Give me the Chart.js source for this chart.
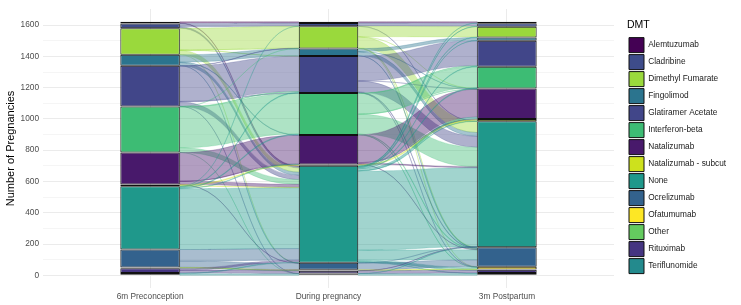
<!DOCTYPE html>
<html>
<head>
<meta charset="utf-8">
<script src="https://cdn.jsdelivr.net/npm/chart.js@4"></script>
<style>
  html, body { margin: 0; padding: 0; background: #fff; }
  #wrap { width: 741px; height: 305px; }
</style>
</head>
<body>
<div id="wrap"><canvas id="chart" width="741" height="305"></canvas></div>
<script>
// DMT categories, top-to-bottom order of the strata (same as legend)
const dmts = ['Alemtuzumab', 'Cladribine', 'Dimethyl Fumarate', 'Fingolimod', 'Glatiramer Acetate',
  'Interferon-beta', 'Natalizumab', 'Natalizumab - subcut', 'None', 'Ocrelizumab',
  'Ofatumumab', 'Other', 'Rituximab', 'Teriflunomide'];
const dmtColors = ['#440154', '#3e4c8a', '#9ad93c', '#2b748e', '#414689',
  '#3dbc74', '#48196b', '#cde11d', '#1f988b', '#33628d',
  '#fde725', '#64cb5f', '#453581', '#238a8d'];

const stages = ['6m Preconception', 'During pregnancy', '3m Postpartum'];

// pregnancies per DMT at each time point
const preconception = [12, 30, 170, 70, 260, 295, 205, 10, 405, 115, 2, 3, 30, 15];
const pregnancy = [8, 22, 142, 47, 237, 268, 190, 8, 620, 45, 2, 3, 18, 12];
const postpartum = [10, 22, 70, 20, 167, 138, 195, 15, 805, 125, 17, 3, 20, 15];

// transitions [from, to, n] (indices into dmts)
const flowsPreToPreg = [
  [0, 0, 8], [0, 8, 4],
  [1, 1, 21], [1, 8, 9],
  [2, 2, 139], [2, 3, 1], [2, 4, 2], [2, 8, 27], [2, 9, 1],
  [3, 3, 46], [3, 6, 3], [3, 8, 20], [3, 9, 1],
  [4, 2, 2], [4, 4, 226], [4, 5, 3], [4, 8, 28], [4, 13, 1],
  [5, 2, 1], [5, 4, 4], [5, 5, 259], [5, 8, 30], [5, 13, 1],
  [6, 6, 183], [6, 7, 1], [6, 8, 19], [6, 9, 2],
  [7, 7, 7], [7, 8, 3],
  [8, 1, 1], [8, 4, 5], [8, 5, 6], [8, 6, 4], [8, 8, 389],
  [9, 8, 74], [9, 9, 40], [9, 12, 1],
  [10, 10, 2],
  [11, 11, 3],
  [12, 8, 12], [12, 9, 1], [12, 12, 17],
  [13, 8, 5], [13, 13, 10]
];
const flowsPregToPost = [
  [0, 0, 8],
  [1, 1, 20], [1, 8, 2],
  [2, 2, 66], [2, 6, 1], [2, 8, 70], [2, 9, 4], [2, 10, 1],
  [3, 3, 19], [3, 6, 2], [3, 8, 24], [3, 9, 2],
  [4, 4, 160], [4, 6, 1], [4, 8, 70], [4, 9, 4], [4, 10, 2],
  [5, 4, 3], [5, 5, 132], [5, 6, 1], [5, 8, 125], [5, 9, 5], [5, 10, 2],
  [6, 6, 178], [6, 7, 4], [6, 8, 6], [6, 9, 2],
  [7, 7, 8],
  [8, 0, 2], [8, 1, 2], [8, 2, 4], [8, 3, 1], [8, 4, 4], [8, 5, 6], [8, 6, 12], [8, 7, 3],
  [8, 8, 505], [8, 9, 64], [8, 10, 10], [8, 12, 3], [8, 13, 4],
  [9, 8, 1], [9, 9, 44],
  [10, 10, 2],
  [11, 11, 3],
  [12, 8, 1], [12, 12, 17],
  [13, 8, 1], [13, 13, 11]
];

const yTicks = [0, 100, 200, 300, 400, 500, 600, 700, 800, 900, 1000, 1100, 1200, 1300, 1400, 1500, 1600];

const FONT = "'Liberation Sans', Arial, sans-serif";
const LEGEND_W = 127;
const LEGEND_SHIFT = 13;

const hexToRgba = (hex, a) => {
  const n = parseInt(hex.slice(1), 16);
  return `rgba(${(n >> 16) & 255}, ${(n >> 8) & 255}, ${n & 255}, ${a})`;
};

// top value of each stratum in a column (strata stacked top-to-bottom in dmts order)
const stratumTops = (counts) => {
  const total = counts.reduce((a, b) => a + b, 0);
  const tops = [];
  let acc = total;
  counts.forEach(c => { tops.push(acc); acc -= c; });
  return tops;
};

const drawFlowSet = (chart, flows, fromCol, toCol, fromCounts, toCounts) => {
  const { ctx, scales: { y } } = chart;
  const meta = chart.getDatasetMeta(0);
  const a = meta.data[fromCol];
  const b = meta.data[toCol];
  const x0 = a.x + a.width / 2;
  const x1 = b.x - b.width / 2;
  const xm = (x0 + x1) / 2;

  // offsets inside source strata (outgoing sorted by target) and target strata (incoming sorted by source)
  const srcOff = stratumTops(fromCounts);
  const dstOff = stratumTops(toCounts);
  const bySrc = [...flows].sort((p, q) => p[0] - q[0] || p[1] - q[1]);
  const pos = new Map();
  bySrc.forEach(f => {
    const t = srcOff[f[0]];
    srcOff[f[0]] -= f[2];
    pos.set(f, { s0: t, s1: t - f[2] });
  });
  const byDst = [...flows].sort((p, q) => p[1] - q[1] || p[0] - q[0]);
  byDst.forEach(f => {
    const t = dstOff[f[1]];
    dstOff[f[1]] -= f[2];
    Object.assign(pos.get(f), { d0: t, d1: t - f[2] });
  });

  flows.forEach(f => {
    const p = pos.get(f);
    const ys0 = y.getPixelForValue(p.s0), ys1 = y.getPixelForValue(p.s1);
    const yd0 = y.getPixelForValue(p.d0), yd1 = y.getPixelForValue(p.d1);
    ctx.beginPath();
    ctx.moveTo(x0, ys0);
    ctx.bezierCurveTo(xm, ys0, xm, yd0, x1, yd0);
    ctx.lineTo(x1, yd1);
    ctx.bezierCurveTo(xm, yd1, xm, ys1, x0, ys1);
    ctx.closePath();
    ctx.fillStyle = hexToRgba(dmtColors[f[0]], 0.42);
    ctx.fill();
    ctx.lineWidth = 0.4;
    ctx.strokeStyle = hexToRgba(dmtColors[f[0]], 0.55);
    ctx.stroke();
  });
};

const flowPlugin = {
  id: 'flows',
  beforeDatasetsDraw(chart) {
    const { ctx, chartArea } = chart;
    ctx.save();
    ctx.beginPath();
    ctx.rect(chartArea.left, chartArea.top, chartArea.right - chartArea.left, chartArea.bottom - chartArea.top);
    ctx.clip();
    drawFlowSet(chart, flowsPreToPreg, 0, 1, preconception, pregnancy);
    drawFlowSet(chart, flowsPregToPost, 1, 2, pregnancy, postpartum);
    ctx.restore();
  }
};

// fixed legend width and a small gap between panel and legend
const legendLayout = {
  id: 'legendLayout',
  beforeLayout(chart) {
    const lg = chart.legend;
    if (lg && !lg._fixedFit) {
      const fit = lg.fit.bind(lg);
      lg.fit = () => { fit(); lg.width = LEGEND_W; };
      lg._fixedFit = true;
    }
  },
  afterLayout(chart) {
    const lg = chart.legend;
    if (lg) { lg.left += LEGEND_SHIFT; lg.right += LEGEND_SHIFT; }
  }
};

// strata: datasets stacked bottom-up, so feed them in reverse order
const datasets = dmts.map((name, i) => ({
  label: name,
  data: [preconception[i], pregnancy[i], postpartum[i]].map((v, k) => ({ x: k + 1, y: v })),
  backgroundColor: dmtColors[i],
  borderColor: '#111',
  borderWidth: 1,
  borderSkipped: false,
  barPercentage: 1 / 3,
  categoryPercentage: 1
})).reverse();

new Chart(document.getElementById('chart'), {
  type: 'bar',
  data: { datasets },
  plugins: [flowPlugin, legendLayout],
  options: {
    responsive: false,
    animation: false,
    devicePixelRatio: 1,
    layout: { padding: { top: 4, left: 0, right: 0, bottom: 0 } },
    plugins: {
      tooltip: { enabled: false },
      legend: {
        position: 'right',
        align: 'start',
        reverse: true,
        title: {
          display: true,
          text: 'DMT',
          color: '#000',
          position: 'start',
          font: { family: FONT, size: 10.5 },
          padding: { top: 16, bottom: 3 }
        },
        labels: {
          boxWidth: 15,
          boxHeight: 15,
          padding: 2,
          color: '#1a1a1a',
          font: { family: FONT, size: 8.3 }
        }
      }
    },
    scales: {
      x: {
        type: 'linear',
        stacked: true,
        offset: false,
        min: 0.4,
        max: 3.6,
        afterBuildTicks: (scale) => { scale.ticks = stages.map((s, i) => ({ value: i + 1 })); },
        afterFit: (scale) => { scale.height = 17; },
        ticks: {
          padding: 4,
          color: '#4d4d4d',
          font: { family: FONT, size: 8.3 },
          callback: (v) => stages[v - 1] || ''
        },
        grid: { color: '#ebebeb', lineWidth: 1, drawTicks: false, offset: false },
        border: { display: false }
      },
      y: {
        stacked: true,
        min: -81,
        max: 1703,
        afterBuildTicks: (scale) => { scale.ticks = yTicks.map(v => ({ value: v })); },
        afterFit: (scale) => { scale.width = 43; },
        ticks: {
          padding: 4,
          color: '#4d4d4d',
          font: { family: FONT, size: 8.3 },
          callback: (v) => (v % 200 === 0 ? v : '')
        },
        grid: {
          drawTicks: false,
          color: '#ebebeb',
          lineWidth: (c) => (c.tick && c.tick.value % 200 === 0 ? 1 : 0.5)
        },
        border: { display: false },
        title: {
          display: true,
          text: 'Number of Pregnancies',
          color: '#000',
          font: { family: FONT, size: 11 },
          padding: { top: 4, bottom: 0 }
        }
      }
    }
  }
});
</script>
</body>
</html>
